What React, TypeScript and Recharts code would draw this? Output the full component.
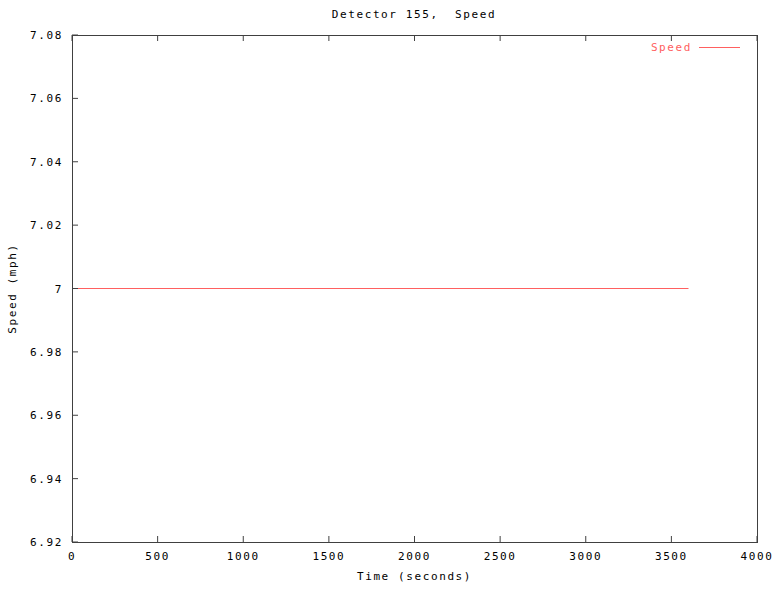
import React from 'react';
import * as RC from 'recharts';
import { LineChart, Line, XAxis, YAxis, Label } from 'recharts';

const times = [0, 3600];
const speeds = [7, 7];
const xTicks = [0, 500, 1000, 1500, 2000, 2500, 3000, 3500, 4000];
const yTicks = [6.92, 6.94, 6.96, 6.98, 7.0, 7.02, 7.04, 7.06, 7.08];
const xDomain = [0, 4000];
const yDomain = [6.92, 7.08];

const data = times.map((t, i) => ({ t, v: speeds[i] }));

const FONT = '"DejaVu Sans Mono", "Liberation Mono", monospace';
const AX = '#404040';
const RED = '#ff6060';
const textStyle: React.CSSProperties = { fontFamily: FONT, fontSize: 11, letterSpacing: 1.6 };
const TL = 6;

const fmtY = (v: number) => String(parseFloat(Number(v).toFixed(2)));

const BottomTick = ({ x, y, payload }: any) => (
  <g>
    <line x1={x} x2={x} y1={y} y2={y - TL} stroke={AX} />
    <text x={x} y={y + 18} textAnchor="middle" fill="#000" style={textStyle}>{payload.value}</text>
  </g>
);
const TopTick = ({ x, y }: any) => <line x1={x} x2={x} y1={y} y2={y + TL} stroke={AX} />;
const LeftTick = ({ x, y, payload }: any) => (
  <g>
    <line x1={x} x2={x + TL} y1={y} y2={y} stroke={AX} />
    <text x={x - 9} y={y + 4} textAnchor="end" fill="#000" style={textStyle}>{fmtY(payload.value)}</text>
  </g>
);
const RightTick = ({ x, y }: any) => <line x1={x} x2={x - TL} y1={y} y2={y} stroke={AX} />;

const PlotBox = () => {
  const hook: any = (RC as any).usePlotArea;
  const area = hook ? hook() : null;
  if (!area) return null;
  return <rect x={area.x + 0.5} y={area.y + 0.5} width={area.width} height={area.height} fill="none" stroke={AX} strokeWidth={1} />;
};

export default function App() {
  return (
    <div style={{ position: 'absolute', left: 0, top: 0, width: 775, height: 592, background: '#fff' }}>
      <LineChart width={775} height={592} data={data} margin={{ top: 0, right: 0, bottom: 0, left: 12 }}>
        <XAxis
          xAxisId="b"
          dataKey="t"
          type="number"
          domain={xDomain}
          ticks={xTicks}
          height={50}
          axisLine={false}
          tickLine={false}
          tickSize={0}
          tickMargin={0}
          tick={BottomTick}
          interval={0}
        >
          <Label
            content={({ viewBox }: any) => (
              <text x={viewBox.x + viewBox.width / 2} y={viewBox.y + 38} textAnchor="middle" style={{ ...textStyle }} fill="#000">
                Time (seconds)
              </text>
            )}
          />
        </XAxis>
        <XAxis xAxisId="t" orientation="top" dataKey="t" type="number" domain={xDomain} ticks={xTicks} height={35} axisLine={false} tickLine={false} tickSize={0} tickMargin={0} tick={TopTick} interval={0} />
        <YAxis
          yAxisId="l"
          type="number"
          domain={yDomain}
          ticks={yTicks}
          width={60}
          axisLine={false}
          tickLine={false}
          tickSize={0}
          tickMargin={0}
          tick={LeftTick}
          interval={0}
        >
          <Label
            content={({ viewBox }: any) => {
              const cx = viewBox.x + 4;
              const cy = viewBox.y + viewBox.height / 2;
              return (
                <text x={cx} y={cy} textAnchor="middle" transform={`rotate(-90 ${cx} ${cy})`} style={{ ...textStyle }} fill="#000">
                  Speed (mph)
                </text>
              );
            }}
          />
        </YAxis>
        <YAxis yAxisId="r" orientation="right" type="number" domain={yDomain} ticks={yTicks} width={18} axisLine={false} tickLine={false} tickSize={0} tickMargin={0} tick={RightTick} interval={0} />
        <PlotBox />
        <Line xAxisId="b" yAxisId="l" dataKey="v" stroke={RED} strokeWidth={1} dot={false} isAnimationActive={false} />
      </LineChart>
      <div style={{ position: 'absolute', left: 0, width: 828, top: 8, textAlign: 'center', ...textStyle, color: '#000' }}>
        Detector 155,&nbsp; Speed
      </div>
      <div style={{ position: 'absolute', right: 775 - 692, top: 41, ...textStyle, color: RED, lineHeight: '13px' }}>Speed</div>
      <div style={{ position: 'absolute', left: 699, width: 41, top: 47, height: 0, borderTop: `1px solid ${RED}` }} />
    </div>
  );
}
